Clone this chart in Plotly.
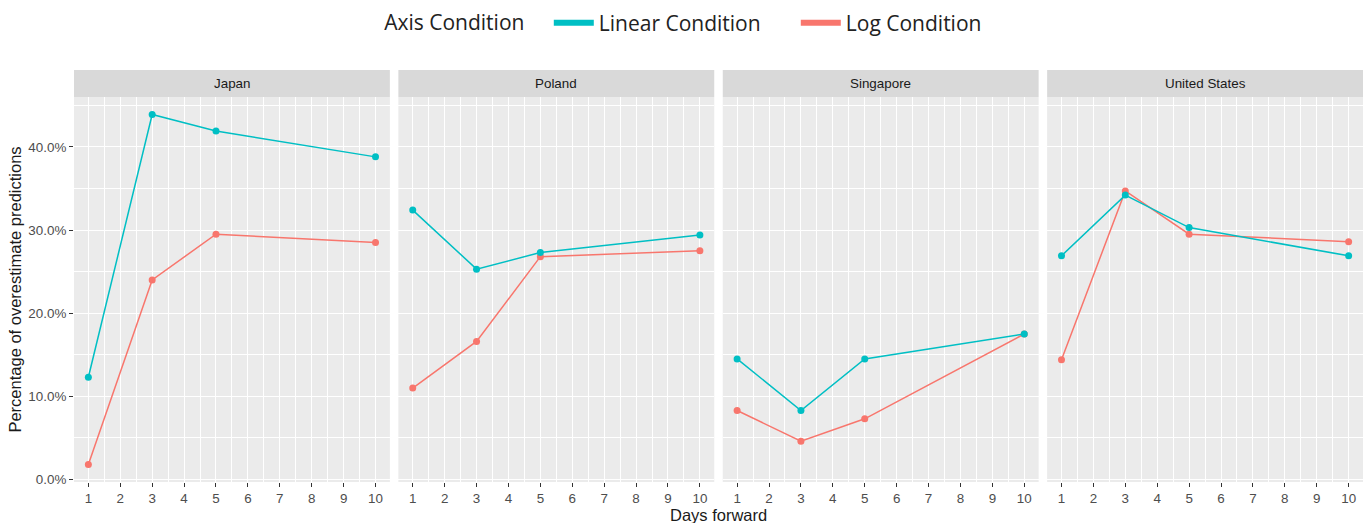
import plotly.graph_objects as go
from plotly.subplots import make_subplots

countries = ["Japan", "Poland", "Singapore", "United States"]
days = [1, 3, 5, 10]
linear_vals = {
    "Japan": [0.123, 0.439, 0.419, 0.388],
    "Poland": [0.324, 0.253, 0.273, 0.294],
    "Singapore": [0.145, 0.083, 0.145, 0.175],
    "United States": [0.269, 0.342, 0.303, 0.269],
}
log_vals = {
    "Japan": [0.018, 0.240, 0.295, 0.285],
    "Poland": [0.110, 0.166, 0.268, 0.275],
    "Singapore": [0.083, 0.046, 0.073, 0.175],
    "United States": [0.144, 0.347, 0.295, 0.286],
}
x_ticks = list(range(1, 11))
y_ticks = [0.0, 0.1, 0.2, 0.3, 0.4]

LIN = "#00BFC4"
LOG = "#F8766D"
FONT = "Liberation Sans, Arial, sans-serif"
LFONT = "Open Sans, sans-serif"

fig = make_subplots(rows=1, cols=4, shared_yaxes=True, horizontal_spacing=0.0066)

for i, c in enumerate(countries, start=1):
    fig.add_trace(go.Scatter(x=days, y=log_vals[c], mode="lines+markers",
                             line=dict(color=LOG, width=1.5), marker=dict(color=LOG, size=7),
                             showlegend=False, name="Log Condition"), row=1, col=i)
    fig.add_trace(go.Scatter(x=days, y=linear_vals[c], mode="lines+markers",
                             line=dict(color=LIN, width=1.5), marker=dict(color=LIN, size=7),
                             showlegend=False, name="Linear Condition"), row=1, col=i)
    fig.update_xaxes(row=1, col=i, range=[0.55, 10.45], tickvals=x_ticks, automargin=False,
                     ticks="outside", ticklen=4, tickcolor="#333333", tickwidth=1,
                     showgrid=True, gridcolor="white", gridwidth=1.1,
                     minor=dict(dtick=0.5, tick0=0.5, showgrid=True, gridcolor="white", gridwidth=0.6),
                     zeroline=False, showline=False,
                     tickfont=dict(family=FONT, size=13.4, color="#4D4D4D"))
    fig.update_yaxes(row=1, col=i, range=[-0.003, 0.460], tickvals=y_ticks, tickformat=".1%",
                     automargin=False,
                     showgrid=True, gridcolor="white", gridwidth=1.1,
                     minor=dict(dtick=0.05, tick0=0.05, showgrid=True, gridcolor="white", gridwidth=0.6),
                     zeroline=False, showline=False,
                     tickfont=dict(family=FONT, size=13.4, color="#4D4D4D"))
    xd = "x domain" if i == 1 else f"x{i} domain"
    yd = "y domain" if i == 1 else f"y{i} domain"
    fig.add_shape(type="rect", xref=xd, yref=yd, x0=0, x1=1, y0=1.0, y1=1.0702,
                  fillcolor="#D9D9D9", line=dict(width=0), layer="below")
    fig.add_annotation(xref=xd, yref=yd, x=0.5, y=1.035, text=c, showarrow=False,
                       yanchor="middle", xanchor="center",
                       font=dict(family=FONT, size=13.4, color="#1A1A1A"))

fig.update_yaxes(row=1, col=1, ticks="outside", ticklen=4, tickcolor="#333333")

fig.add_annotation(xref="paper", yref="paper", x=-0.0465, y=0.5, text="Percentage of overestimate predictions",
                   showarrow=False, textangle=-90, xanchor="center", yanchor="middle",
                   font=dict(family=FONT, size=16.5, color="#1A1A1A"))

# legend-only traces
fig.add_trace(go.Scatter(x=[None], y=[None], mode="lines", name="Linear Condition",
                         line=dict(color=LIN, width=6)), row=1, col=1)
fig.add_trace(go.Scatter(x=[None], y=[None], mode="lines", name="Log Condition",
                         line=dict(color=LOG, width=6)), row=1, col=1)

fig.add_annotation(xref="paper", yref="paper", x=0.5, y=-0.085, text="Days forward",
                   showarrow=False, yanchor="middle",
                   font=dict(family=FONT, size=16.5, color="#1A1A1A"))

fig.update_layout(
    width=1364, height=523,
    margin=dict(l=74, r=1, t=97, b=41, autoexpand=False),
    plot_bgcolor="#EBEBEB", paper_bgcolor="white",
    legend=dict(orientation="h", x=0.4955, xanchor="center",
                yref="container", y=0.956, yanchor="middle",
                title=dict(text="Axis Condition   ", side="left",
                           font=dict(family=LFONT, size=21, color="#222222")),
                font=dict(family=LFONT, size=21, color="#222222"),
                itemwidth=40, entrywidth=192, traceorder="normal"),
)

fig.write_html("out.html", config={"displayModeBar": False},
               post_script="document.body.style.margin='0px';")
